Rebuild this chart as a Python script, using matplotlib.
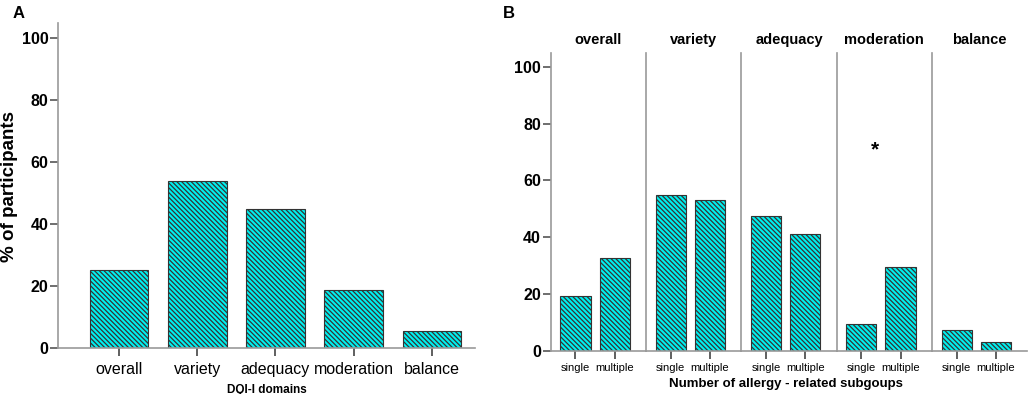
import numpy as np
import matplotlib
matplotlib.use("Agg")
import matplotlib.pyplot as plt

plt.rcParams['font.family'] = ['Liberation Sans', 'DejaVu Sans']
plt.rcParams['hatch.linewidth'] = 0.9
plt.rcParams['hatch.color'] = 'black'

# panel A data
domains = ["overall", "variety", "adequacy", "moderation", "balance"]
pct_all = [25.0, 54.0, 44.8, 18.5, 5.4]

# panel B data
groups = ["single", "multiple"]
pct_single = [19.2, 54.8, 47.6, 9.5, 7.2]
pct_multiple = [32.5, 53.0, 41.1, 29.5, 3.1]

fill = '#00f0f0'
edge = '#333333'
axis_gray = '#999999'
hatch = '\\' * 7

fig = plt.figure(figsize=(10.3, 3.94), dpi=100)

# ---- panel A ----
axA = fig.add_axes([58/1030, 1-347.7/394, (475-58)/1030, (347.7-23)/394])
x = np.arange(len(domains))
axA.bar(x, pct_all, width=0.75, color=fill, edgecolor=edge, linewidth=0.8, hatch=hatch)
axA.set_xlim(-0.78, 4.55)
axA.set_ylim(0, 105)
axA.set_yticks([0, 20, 40, 60, 80, 100])
axA.set_xticks(x)
axA.set_xticklabels(domains, fontsize=11.5)
axA.tick_params(axis='y', labelsize=11.5, length=6, width=1.2, color='#555555', pad=1)
axA.tick_params(axis='x', length=6, width=1.2, color='#444444', pad=4)
for lab in axA.get_yticklabels():
    lab.set_fontweight('bold')
for s in ['top', 'right']:
    axA.spines[s].set_visible(False)
for s in ['left', 'bottom']:
    axA.spines[s].set_color(axis_gray)
    axA.spines[s].set_linewidth(1.2)
axA.set_xlabel("DQI-I domains", fontsize=8.5, fontweight='bold', labelpad=5)
fig.text(10/1030, 1-186/394, "% of participants", fontsize=13.5, fontweight='bold',
         rotation=90, ha='center', va='center')
fig.text(13/1030, 1-14/394, "A", fontsize=12, fontweight='bold', va='center')

# ---- panel B ----
left0 = 550.7
fw = 95.3
xb = np.arange(len(groups))
axes_b = []
for i, d in enumerate(domains):
    ax = fig.add_axes([(left0 + i*fw)/1030, 1-350.7/394, fw/1030, (350.7-52.7)/394])
    axes_b.append(ax)
    ax.bar(xb, [pct_single[i], pct_multiple[i]], width=0.77, color=fill,
           edgecolor=edge, linewidth=0.8, hatch=hatch)
    ax.set_xlim(-0.63, 1.8)
    ax.set_ylim(0, 105)
    ax.set_xticks(xb)
    ax.set_xticklabels(groups, fontsize=8)
    ax.tick_params(axis='x', length=6, width=1.2, color='#444444', pad=3)
    ax.set_yticks([0, 20, 40, 60, 80, 100])
    if i == 0:
        ax.tick_params(axis='y', labelsize=11.5, length=6, width=1.2, color='#555555', pad=1)
        for lab in ax.get_yticklabels():
            lab.set_fontweight('bold')
    else:
        ax.tick_params(axis='y', left=False, labelleft=False)
    for s in ['top', 'right']:
        ax.spines[s].set_visible(False)
    for s in ['left', 'bottom']:
        ax.spines[s].set_color(axis_gray)
        ax.spines[s].set_linewidth(1.2)
    ax.set_title(d, fontsize=10.5, fontweight='bold', pad=6)

axes_b[3].text(0.35, 70.7, "*", fontsize=15, fontweight='bold', ha='center', va='center')
fig.text(786/1030, 1-384/394, "Number of allergy - related subgoups", fontsize=9.5,
         fontweight='bold', ha='center', va='center')
fig.text(503/1030, 1-14/394, "B", fontsize=12, fontweight='bold', va='center')

fig.savefig("out.png", dpi=100)
